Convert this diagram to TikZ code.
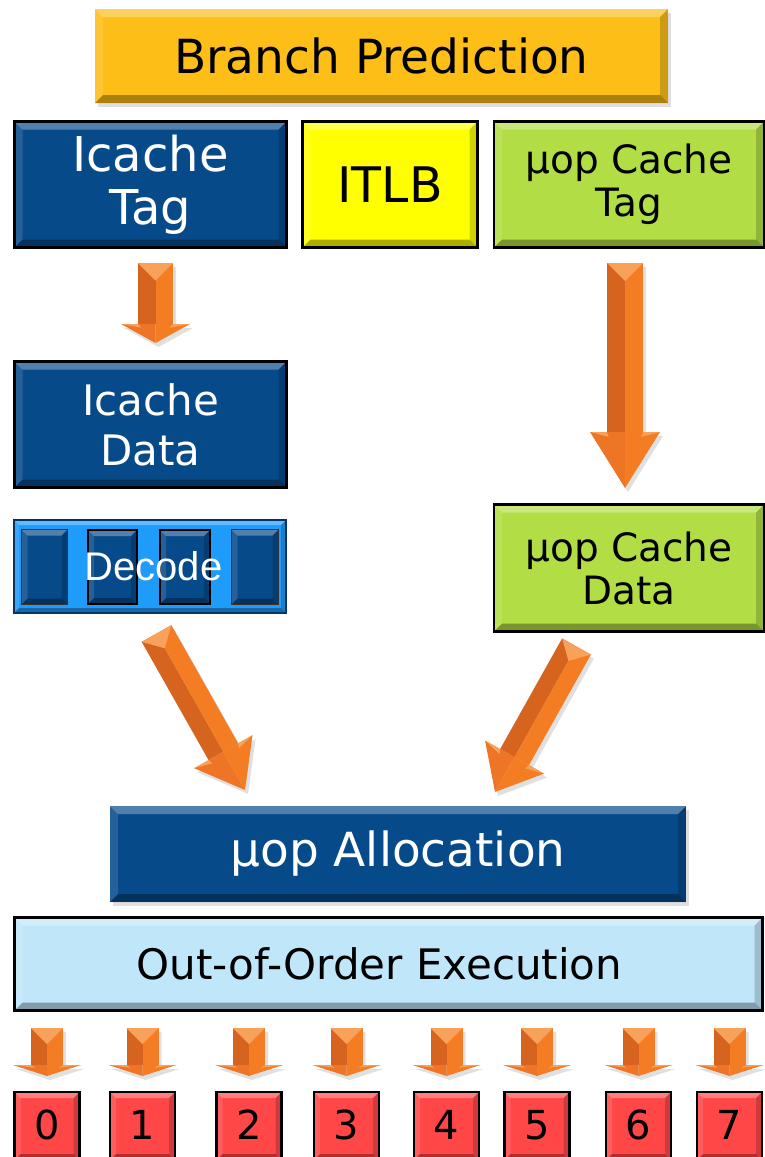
\documentclass[tikz,border=0pt]{standalone}
\usepackage{fontspec}
\setmainfont{DejaVu Sans}
\newfontfamily\arialfont{Liberation Sans}
\usetikzlibrary{calc,shadows}

\definecolor{bpgold}{HTML}{FDBE17}
\definecolor{navy}{HTML}{074A8A}
\definecolor{tlbyellow}{HTML}{FFFF00}
\definecolor{lime}{HTML}{B2DD45}
\definecolor{decblue}{HTML}{1F9BFA}
\definecolor{oooblue}{HTML}{C0E6FA}
\definecolor{portred}{HTML}{FF4747}
\definecolor{arrlight}{HTML}{F47C22}
\definecolor{arrdark}{HTML}{D6641F}
\definecolor{arrmid}{HTML}{EE7526}
\definecolor{arrhigh}{HTML}{F8A15B}

% 3D block arrow: start, tip, shaft half width, head half width, head length
\newcommand\blockarrow[5]{%
  \coordinate (ba-h)  at ($(#2)!#5!(#1)$);
  \coordinate (ba-sl) at ($(#1)!#3!-90:(#2)$);
  \coordinate (ba-sr) at ($(#1)!#3!90:(#2)$);
  \coordinate (ba-t)  at ($(#1)!#3!(#2)$);
  \coordinate (ba-hl) at ($(ba-h)!#3!-90:(#2)$);
  \coordinate (ba-hr) at ($(ba-h)!#3!90:(#2)$);
  \coordinate (ba-bl) at ($(ba-h)!#4!-90:(#2)$);
  \coordinate (ba-br) at ($(ba-h)!#4!90:(#2)$);
  \begin{scope}[transform canvas={xshift=3pt,yshift=-4pt}]
    \fill[black,opacity=0.12] (ba-sl) -- (ba-sr) -- (ba-hr) -- (ba-br) -- (#2) -- (ba-bl) -- (ba-hl) -- cycle;
  \end{scope}
  \fill[arrdark]  (#1) -- (ba-sl) -- (ba-hl) -- (ba-h) -- cycle;
  \fill[arrlight] (#1) -- (ba-sr) -- (ba-hr) -- (ba-h) -- cycle;
  \fill[arrmid]   (ba-h) -- (ba-bl) -- (#2) -- cycle;
  \fill[arrlight] (ba-h) -- (ba-br) -- (#2) -- cycle;
  \fill[arrhigh]  (ba-sl) -- (ba-sr) -- (ba-t) -- cycle;
  \fill[arrhigh]  (ba-bl) -- (ba-hl) -- ($(ba-hl)!5pt!(#2)$) -- cycle;
  \fill[arrhigh]  (ba-br) -- (ba-hr) -- ($(ba-hr)!5pt!(#2)$) -- cycle;
}

\tikzset{
  bevel/.style={path picture={
    \def\pb{path picture bounding box}
    \fill[white,opacity=0.30] (\pb.north west) -- (\pb.north east) -- ([xshift=-#1,yshift=-#1]\pb.north east) -- ([xshift=#1,yshift=-#1]\pb.north west) -- cycle;
    \fill[white,opacity=0.12] (\pb.north west) -- ([xshift=#1,yshift=-#1]\pb.north west) -- ([xshift=#1,yshift=#1]\pb.south west) -- (\pb.south west) -- cycle;
    \fill[black,opacity=0.18] (\pb.north east) -- ([xshift=-#1,yshift=-#1]\pb.north east) -- ([xshift=-#1,yshift=#1]\pb.south east) -- (\pb.south east) -- cycle;
    \fill[black,opacity=0.32] (\pb.south west) -- ([xshift=#1,yshift=#1]\pb.south west) -- ([xshift=-#1,yshift=#1]\pb.south east) -- (\pb.south east) -- cycle;
  }},
  bevel/.default=8pt,
  box/.style={draw=black,line width=2.5pt,inner sep=0pt,align=center,bevel},
  softshadow/.style={drop shadow={shadow xshift=3pt,shadow yshift=-4pt,opacity=0.25}},
  port/.style={box,bevel=6pt,fill=portred,minimum width=65pt,minimum height=68pt,
    text depth=3pt,font=\fontsize{40}{40}\selectfont},
}

\begin{document}
\begin{tikzpicture}[x=1pt,y=-1pt]
\useasboundingbox (0,0) rectangle (764,1157);

% front end
\node[fill=bpgold,bevel,softshadow,inner sep=0pt,minimum width=573pt,minimum height=94pt,
  font=\fontsize{47}{50}\selectfont] (bp) at (381.5,56) {Branch Prediction};

\node[box,fill=navy,text=white,minimum width=272pt,minimum height=126pt,
  font=\fontsize{48}{53}\selectfont] (ictag) at (150.5,184.5) {Icache\\Tag};
\node[box,fill=tlbyellow,minimum width=175pt,minimum height=126pt,
  font=\fontsize{49}{50}\selectfont] (itlb) at (390,184.5) {ITLB};
\node[box,fill=lime,minimum width=270pt,minimum height=126pt,
  font=\fontsize{39}{43}\selectfont] (uctag) at (629,184.5) {µop Cache\\Tag};

\node[box,fill=navy,text=white,minimum width=272pt,minimum height=126pt,
  font=\fontsize{42}{50}\selectfont] (icdata) at (150.5,424.5) {Icache\\Data};

% decoders
\node[draw=navy!70!black,line width=1.5pt,fill=decblue,bevel=5pt,
  minimum width=272pt,minimum height=93pt] (decode) at (150,566.5) {};
\node[draw=black!80,line width=1pt,fill=navy,bevel=6pt,minimum width=46pt,minimum height=75pt] (d1) at (44.5,567) {};
\node[draw=black,line width=2.5pt,fill=navy,bevel=6pt,minimum width=49pt,minimum height=74pt] (d2) at (112.5,567) {};
\node[draw=black,line width=2.5pt,fill=navy,bevel=6pt,minimum width=50pt,minimum height=74pt] (d3) at (185,567) {};
\node[draw=black!80,line width=1pt,fill=navy,bevel=6pt,minimum width=47pt,minimum height=75pt] (d4) at (255,567) {};
\node[text=white,inner sep=0pt,font=\arialfont\fontsize{40}{40}\selectfont] (dectext) at (153.5,566) {Decode};

\node[box,fill=lime,minimum width=270pt,minimum height=127pt,
  font=\fontsize{39}{43}\selectfont] (ucdata) at (629,568) {µop Cache\\Data};

% back end
\node[fill=navy,text=white,bevel,softshadow,inner sep=0pt,minimum width=576pt,minimum height=96pt,
  font=\fontsize{47}{50}\selectfont] (alloc) at (398,854) {µop Allocation};

\node[box,fill=oooblue,minimum width=748pt,minimum height=93pt,
  font=\fontsize{42}{45}\selectfont] (ooo) at (388.5,964) {\hspace*{-18pt}Out-of-Order Execution};

\foreach \i/\x in {0/47,1/142.5,2/249,3/346.5,4/446.5,5/537,6/638.5,7/729.5}{
  \node[port] (p\i) at (\x,1126) {\i};
}

% flow arrows
\coordinate (a1s) at (155.5,263);  \coordinate (a1e) at (155.5,343);
\coordinate (a2s) at (625,263);    \coordinate (a2e) at (625,488);
\coordinate (a3s) at (156.5,633.5); \coordinate (a3e) at (245,790);
\coordinate (a4s) at (576.5,646.5); \coordinate (a4e) at (495,792);
\blockarrow{a1s}{a1e}{17.5pt}{34.5pt}{19pt}
\blockarrow{a2s}{a2e}{18pt}{35pt}{56pt}
\blockarrow{a3s}{a3e}{17pt}{33.5pt}{44pt}
\blockarrow{a4s}{a4e}{16.5pt}{33.8pt}{40pt}

\foreach \i/\x in {0/47,1/142.5,2/249,3/346.5,4/446.5,5/537,6/638.5,7/729.5}{
  \coordinate (ps\i) at (\x,1028);
  \coordinate (pe\i) at (\x,1076);
  \blockarrow{ps\i}{pe\i}{16pt}{34pt}{11pt}
}
\end{tikzpicture}
\end{document}
